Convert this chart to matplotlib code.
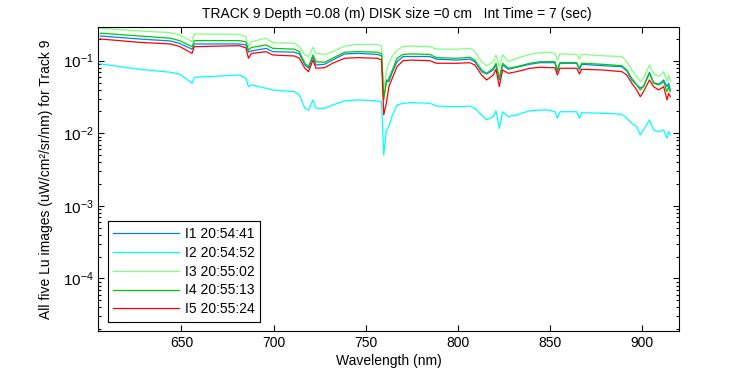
import matplotlib
matplotlib.use("Agg")
import matplotlib.pyplot as plt
import matplotlib.ticker as ticker

plt.rcParams['font.family'] = ['Liberation Sans', 'DejaVu Sans']
plt.rcParams['mathtext.fontset'] = 'custom'
plt.rcParams['mathtext.rm'] = 'Liberation Sans'
plt.rcParams['axes.unicode_minus'] = False

# wavelength samples (nm)
wavelength = [606, 627, 644, 649, 655.8, 657, 681.5, 685, 686.4, 688, 696, 699.6,
              711.4, 714, 717, 719, 721.4, 723, 727.7, 732, 738.6, 745.7, 756.5,
              758.6, 759.8, 761.2, 762.6, 764.5, 767, 770.3, 775, 784.8, 788.4,
              799.3, 806.5, 809.2, 812.9, 815.6, 819.2, 820.7, 822.5, 824.3, 827.4,
              831.9, 839.1, 844.6, 849, 852.7, 854, 855.4, 864.5, 866, 867.2, 878.1,
              889, 891.7, 894.4, 897.1, 899, 900.7, 904, 906.2, 909, 911.7, 913.5,
              914.4, 915.3]

# Lu for each of the five images (uW/cm^2/sr/nm)
lu_i1 = [0.219, 0.199, 0.187, 0.173, 0.144, 0.170, 0.170, 0.1645, 0.132, 0.136, 0.148, 0.133,
         0.131, 0.124, 0.0873, 0.0786, 0.114, 0.0873, 0.0893, 0.102, 0.124, 0.126, 0.122,
         0.116, 0.0319, 0.0542, 0.0514, 0.0699, 0.0968, 0.114, 0.114, 0.114, 0.105,
         0.102, 0.105, 0.0968, 0.0706, 0.0655, 0.0745, 0.0873, 0.0542, 0.0873, 0.0762,
         0.0812, 0.0893, 0.0938, 0.0938, 0.0938, 0.0706, 0.0921, 0.0921, 0.0745, 0.0893, 0.0854,
         0.0827, 0.0722, 0.0542, 0.0463, 0.0421, 0.0439, 0.0693, 0.0498, 0.0473, 0.0542, 0.0439,
         0.0489, 0.0395]
lu_i2 = [0.0901, 0.0762, 0.0693, 0.0655, 0.0489, 0.0590, 0.0635, 0.0572, 0.0439, 0.0463, 0.0417, 0.0395,
         0.0374, 0.0337, 0.0221, 0.0209, 0.0288, 0.0221, 0.0221, 0.0245, 0.0279, 0.0288, 0.0279,
         0.0270, 0.00502, 0.0111, 0.0123, 0.0179, 0.0245, 0.0259, 0.0264, 0.0259, 0.0237,
         0.0232, 0.0237, 0.0221, 0.0179, 0.0153, 0.0170, 0.0204, 0.0117, 0.0198, 0.0170,
         0.0179, 0.0204, 0.0209, 0.0209, 0.0198, 0.0161, 0.0198, 0.0198, 0.0161, 0.0192, 0.0189,
         0.0183, 0.0161, 0.0137, 0.0123, 0.00948, 0.0111, 0.0153, 0.0111, 0.0105, 0.0111, 0.00854,
         0.0105, 0.00948]
lu_i3 = [0.280, 0.257, 0.243, 0.226, 0.183, 0.233, 0.231, 0.214, 0.156, 0.183, 0.204, 0.177,
         0.174, 0.156, 0.120, 0.114, 0.153, 0.126, 0.122, 0.133, 0.159, 0.168, 0.168,
         0.159, 0.0374, 0.0706, 0.0921, 0.116, 0.140, 0.156, 0.159, 0.156, 0.145,
         0.144, 0.148, 0.133, 0.0968, 0.0846, 0.0968, 0.120, 0.0827, 0.120, 0.0968,
         0.108, 0.122, 0.129, 0.131, 0.126, 0.102, 0.124, 0.122, 0.105, 0.122, 0.117,
         0.114, 0.0968, 0.0745, 0.0602, 0.0514, 0.0572, 0.0873, 0.0670, 0.0602, 0.0706, 0.0514,
         0.0635, 0.0514]
lu_i4 = [0.239, 0.219, 0.204, 0.189, 0.156, 0.189, 0.189, 0.181, 0.140, 0.152, 0.1645, 0.148,
         0.144, 0.133, 0.0921, 0.0827, 0.120, 0.0968, 0.0951, 0.108, 0.131, 0.133, 0.131,
         0.124, 0.0288, 0.0489, 0.0572, 0.0745, 0.108, 0.122, 0.124, 0.122, 0.110,
         0.108, 0.111, 0.102, 0.0745, 0.0670, 0.0786, 0.0921, 0.0572, 0.0921, 0.0786,
         0.0827, 0.0921, 0.0968, 0.0968, 0.0968, 0.0745, 0.0938, 0.0938, 0.0786, 0.0921, 0.0893,
         0.0854, 0.0745, 0.0572, 0.0463, 0.0395, 0.0439, 0.0670, 0.0489, 0.0463, 0.0514, 0.0374,
         0.0439, 0.0374]
lu_i5 = [0.199, 0.179, 0.170, 0.157, 0.126, 0.156, 0.161, 0.150, 0.108, 0.126, 0.133, 0.1198,
         0.116, 0.108, 0.0786, 0.0706, 0.102, 0.0786, 0.0801, 0.0921, 0.108, 0.110, 0.108,
         0.102, 0.0179, 0.0259, 0.0439, 0.0578, 0.0827, 0.100, 0.102, 0.100, 0.0921,
         0.0921, 0.0938, 0.0873, 0.0635, 0.0542, 0.0635, 0.0762, 0.0439, 0.0745, 0.0670,
         0.0706, 0.0786, 0.0812, 0.0801, 0.0801, 0.0635, 0.0786, 0.0786, 0.0655, 0.0762, 0.0745,
         0.0706, 0.0635, 0.0489, 0.0395, 0.0319, 0.0374, 0.0542, 0.0439, 0.0395, 0.0439, 0.0288,
         0.0356, 0.0319]

labels = ['I1 20:54:41', 'I2 20:54:52', 'I3 20:55:02', 'I4 20:55:13', 'I5 20:55:24']
colors = ['#0080ff', '#00ffff', '#80ff80', '#00cc00', '#ff0000']

fig = plt.figure(figsize=(7.5, 3.75), dpi=100)
ax = fig.add_axes([0.1313, 0.1173, 0.774, 0.8107])

for vals, lab, col in zip([lu_i1, lu_i2, lu_i3, lu_i4, lu_i5], labels, colors):
    ax.plot(wavelength, vals, color=col, lw=0.9, label=lab)

ax.set_yscale('log')
ax.set_xlim(605, 920)
ax.set_ylim(1.89e-5, 0.291)
ax.xaxis.set_major_locator(ticker.MultipleLocator(50))
ax.yaxis.set_major_locator(ticker.LogLocator(base=10))
ax.yaxis.set_minor_locator(ticker.LogLocator(base=10, subs=range(2, 10)))
ax.yaxis.set_minor_formatter(ticker.NullFormatter())

ax.tick_params(which='both', direction='in', top=True, right=True, labelsize=10)
ax.tick_params(axis='y', which='major', labelsize=11)
ax.tick_params(which='major', length=4.5, width=0.8)
ax.tick_params(which='minor', length=2.5, width=0.8)
for sp in ax.spines.values():
    sp.set_linewidth(0.8)

ax.set_xlabel('Wavelength (nm)', fontsize=10, labelpad=3)
ax.set_ylabel('All five Lu images (uW/cm\u00b2/sr/nm) for Track 9', fontsize=10, labelpad=7)
ax.text(0.178, 1.02, 'TRACK 9 Depth =0.08 (m) DISK size =0 cm   Int Time = 7 (sec)',
        transform=ax.transAxes, ha='left', va='bottom', fontsize=10)

leg = ax.legend(loc='lower left', bbox_to_anchor=(0.016, 0.03), borderaxespad=0,
                fontsize=10, handlelength=4.7, handletextpad=0.45, labelspacing=0.35,
                fancybox=False, framealpha=1, edgecolor='black', borderpad=0.4)
leg.get_frame().set_linewidth(0.8)

fig.savefig('out.png', dpi=100, facecolor='white')
